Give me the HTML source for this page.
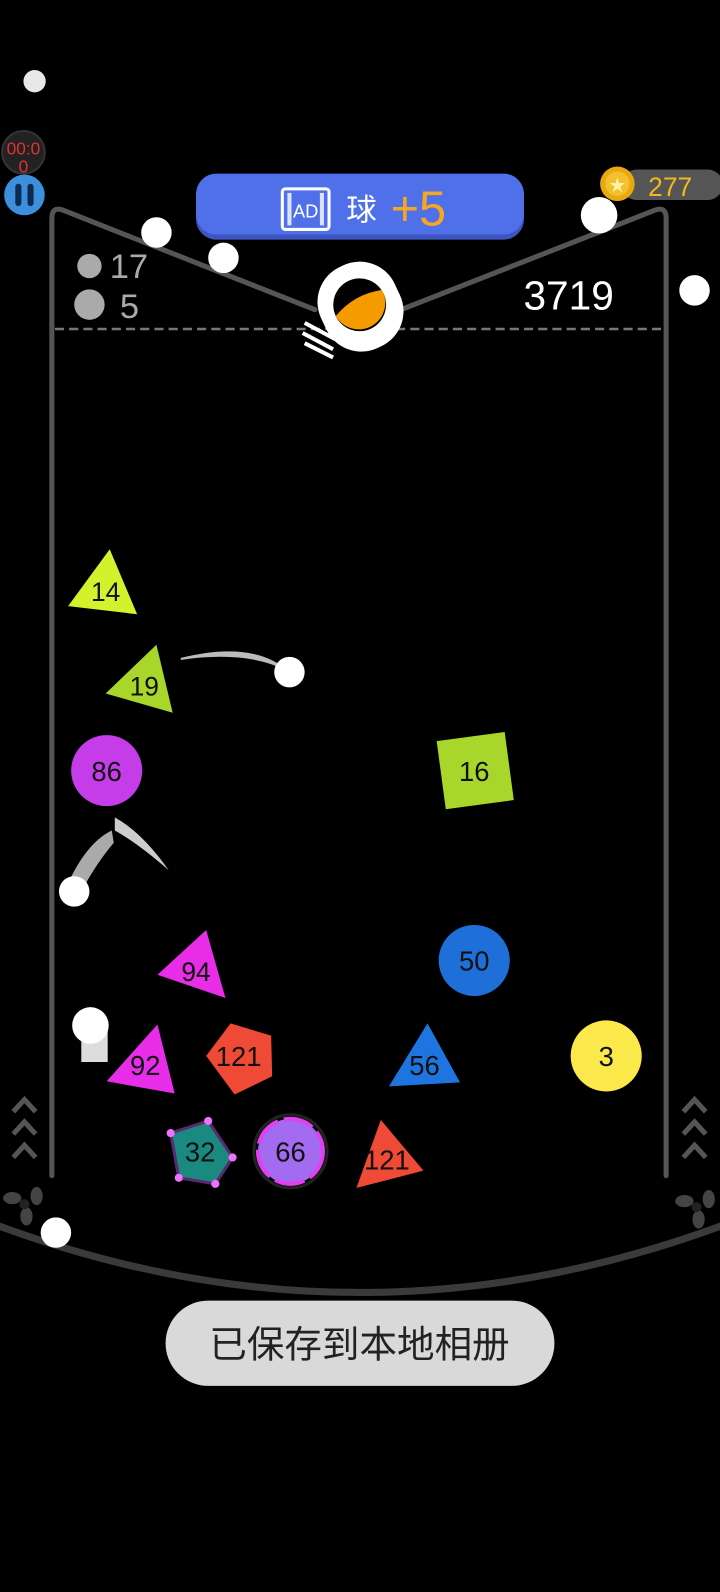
<!DOCTYPE html>
<html><head><meta charset="utf-8"><style>
html,body{margin:0;padding:0;background:#000;width:720px;height:1592px;overflow:hidden}
svg{display:block}
text{font-family:"Liberation Sans","Noto Sans CJK SC",sans-serif}
</style></head><body>
<svg width="720" height="1592" viewBox="0 0 709 1568" xmlns="http://www.w3.org/2000/svg">
<rect width="709" height="1568" fill="#000"/>
<circle cx="34" cy="80" r="11" fill="#e8e8e8"/>
<circle cx="23" cy="150" r="21" fill="#222" stroke="#333" stroke-width="2"/>
<text x="23" y="152" font-size="17" fill="#e03030" text-anchor="middle">00:0</text>
<text x="23" y="170" font-size="17" fill="#e03030" text-anchor="middle">0</text>
<circle cx="24" cy="192" r="20" fill="#3b8fdc"/>
<rect x="15" y="181" width="6" height="22" rx="3" fill="#0d2a50"/>
<rect x="27" y="181" width="6" height="22" rx="3" fill="#0d2a50"/>
<!-- walls -->
<path d="M51,1158 L51,215 Q51,203 62,207 L310,305" fill="none" stroke="#555" stroke-width="5" stroke-linecap="round"/>
<path d="M656,1158 L656,215 Q656,203 645,207 L395,305" fill="none" stroke="#555" stroke-width="5" stroke-linecap="round"/>
<line x1="54" y1="324" x2="653" y2="324" stroke="#777" stroke-width="2.5" stroke-dasharray="9 5"/>
<!-- blue button -->
<rect x="193" y="174" width="323" height="62" rx="20" fill="#3d55c0"/>
<rect x="193" y="171" width="323" height="60" rx="20" fill="#5070ea"/>
<rect x="278" y="186" width="46" height="40" rx="3" fill="none" stroke="#fff" stroke-width="3"/>
<rect x="283" y="190" width="4" height="32" fill="#fff" opacity=".8"/>
<rect x="315" y="190" width="4" height="32" fill="#fff" opacity=".8"/>
<text x="301" y="214" font-size="18" fill="#fff" text-anchor="middle">AD</text>
<text x="356" y="217" font-size="30" fill="#fff" text-anchor="middle">球</text>
<text x="412" y="222" font-size="48" fill="#f5a623" text-anchor="middle">+5</text>
<!-- coins -->
<rect x="612" y="167" width="100" height="30" rx="15" fill="#555"/>
<circle cx="608" cy="181" r="17" fill="#e9a90e"/>
<circle cx="608" cy="181" r="12" fill="#f3c030"/>
<text x="608" y="188" font-size="16" fill="#fff3a0" text-anchor="middle">★</text>
<text x="660" y="193" font-size="26" fill="#f0b91e" text-anchor="middle">277</text>
<!-- balls top -->
<circle cx="154" cy="229" r="15" fill="#fff"/>
<circle cx="220" cy="254" r="15" fill="#fff"/>
<circle cx="590" cy="212" r="18" fill="#fff"/>
<circle cx="684" cy="286" r="15" fill="#fff"/>
<circle cx="88" cy="262" r="12" fill="#aaa"/>
<circle cx="88" cy="300" r="15" fill="#aaa"/>
<text x="108" y="274" font-size="34" fill="#aaa">17</text>
<text x="118" y="313" font-size="34" fill="#aaa">5</text>
<text x="560" y="305" font-size="40" fill="#fff" text-anchor="middle">3719</text>
<!-- launcher -->
<g transform="rotate(-25 355 302)">
<rect x="315" y="258" width="80" height="88" rx="38" fill="#fff"/>
<circle cx="355" cy="300" r="26" fill="#000"/>
<path d="M329,300 Q355,288 381,296 A26,26 0 0 1 329,300Z" fill="#f59b00"/>
</g>
<g stroke="#fff" stroke-width="4">
<line x1="300" y1="318" x2="330" y2="334"/>
<line x1="298" y1="328" x2="328" y2="344"/>
<line x1="300" y1="338" x2="328" y2="352"/>
</g>
<!-- shapes -->
<polygon points="67,597 108,541 135,605" fill="#d4f12e"/>
<text x="104" y="592" font-size="26" fill="#111" text-anchor="middle">14</text>
<polygon points="104,683 154,635 170,702" fill="#a8d62a"/>
<text x="142" y="685" font-size="26" fill="#111" text-anchor="middle">19</text>
<path d="M178,648 Q250,630 285,662 Q245,640 178,650Z" fill="#bbb"/>
<circle cx="285" cy="662" r="15" fill="#fff"/>
<circle cx="105" cy="759" r="35" fill="#c43de8"/>
<text x="105" y="769" font-size="27" fill="#111" text-anchor="middle">86</text>
<polygon points="430,730 497,721 506,788 439,797" fill="#a8d62a"/>
<text x="467" y="769" font-size="27" fill="#111" text-anchor="middle">16</text>
<path d="M66,872 Q85,830 110,818 L112,830 Q95,850 80,878Z" fill="#aaa"/>
<path d="M113,805 Q140,820 166,857 Q135,830 113,818Z" fill="#ccc"/>
<circle cx="73" cy="878" r="15" fill="#fff"/>
<polygon points="155,960 203,916 222,983" fill="#e82de8"/>
<text x="193" y="966" font-size="26" fill="#111" text-anchor="middle">94</text>
<circle cx="467" cy="946" r="35" fill="#1f6fd8"/>
<text x="467" y="956" font-size="27" fill="#111" text-anchor="middle">50</text>
<rect x="80" y="1010" width="26" height="36" fill="#ddd"/>
<circle cx="89" cy="1010" r="18" fill="#fff"/>
<polygon points="105,1065 155,1009 172,1077" fill="#e82de8"/>
<text x="143" y="1059" font-size="27" fill="#111" text-anchor="middle">92</text>
<polygon points="203,1040 227,1008 267,1020 268,1060 231,1078" fill="#ee4a35"/>
<text x="235" y="1050" font-size="27" fill="#111" text-anchor="middle">121</text>
<polygon points="383,1070 421,1008 453,1066" fill="#1e75e0"/>
<text x="418" y="1059" font-size="27" fill="#111" text-anchor="middle">56</text>
<circle cx="597" cy="1040" r="35" fill="#fbe84a"/>
<text x="597" y="1050" font-size="27" fill="#111" text-anchor="middle">3</text>
<polygon points="168,1116 205,1104 229,1140 212,1166 176,1160" fill="#1a8a80" stroke="#5a2a70" stroke-width="3"/>
<g fill="#f070ff"><circle cx="168" cy="1116" r="4"/><circle cx="205" cy="1104" r="4"/><circle cx="229" cy="1140" r="4"/><circle cx="212" cy="1166" r="4"/><circle cx="176" cy="1160" r="4"/></g>
<text x="197" y="1144" font-size="27" fill="#111" text-anchor="middle">32</text>
<circle cx="286" cy="1134" r="36" fill="none" stroke="#222" stroke-width="3"/>
<circle cx="286" cy="1134" r="32" fill="#a26bf0" stroke="#e040f0" stroke-width="4" stroke-dasharray="30 6"/>
<text x="286" y="1144" font-size="27" fill="#111" text-anchor="middle">66</text>
<polygon points="351,1170 375,1103 417,1153" fill="#ee4a35"/>
<text x="381" y="1152" font-size="27" fill="#111" text-anchor="middle">121</text>
<!-- chevrons -->
<g fill="none" stroke="#555" stroke-width="5">
<path d="M13,1095 L24,1083 L35,1095 M13,1117 L24,1105 L35,1117 M13,1140 L24,1128 L35,1140"/>
<path d="M673,1095 L684,1083 L695,1095 M673,1117 L684,1105 L695,1117 M673,1140 L684,1128 L695,1140"/>
</g>
<!-- fans -->
<g fill="#444">
<ellipse cx="12" cy="1180" rx="9" ry="6"/><ellipse cx="36" cy="1178" rx="6" ry="9"/><ellipse cx="26" cy="1198" rx="6" ry="9"/><circle cx="24" cy="1186" r="5" fill="#222"/>
<ellipse cx="674" cy="1183" rx="9" ry="6"/><ellipse cx="698" cy="1181" rx="6" ry="9"/><ellipse cx="688" cy="1201" rx="6" ry="9"/><circle cx="686" cy="1189" r="5" fill="#222"/>
</g>
<path d="M-5,1206 Q354,1340 714,1206" fill="none" stroke="#3a3a3a" stroke-width="7"/>
<circle cx="55" cy="1214" r="15" fill="#fff"/>
<!-- toast -->
<rect x="163" y="1281" width="383" height="84" rx="42" fill="#d9d9d9"/>
<text x="354" y="1337" font-size="37" fill="#222" text-anchor="middle">已保存到本地相册</text>
</svg>
</body></html>
